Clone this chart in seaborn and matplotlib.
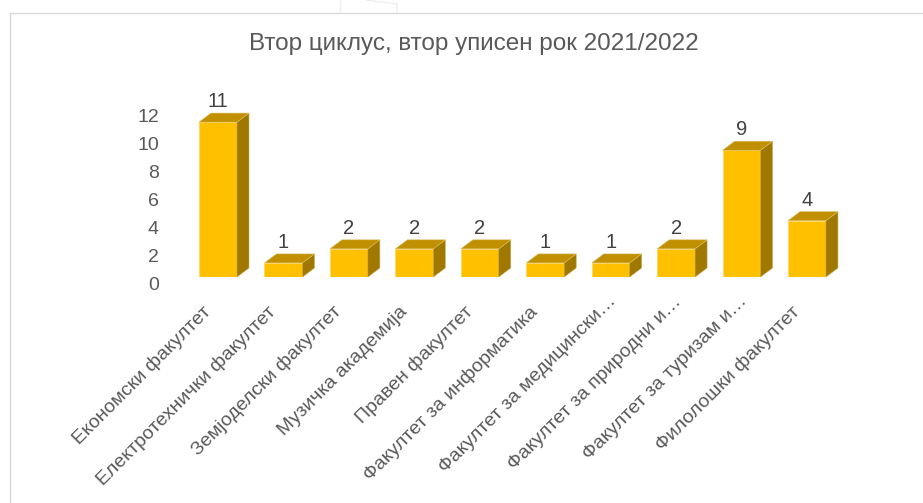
import matplotlib
matplotlib.use('Agg')
import matplotlib.pyplot as plt
import matplotlib.transforms as mtrans
from matplotlib.lines import Line2D
from matplotlib.patches import Polygon
import pandas as pd
import seaborn as sns

faculties = [
    "Економски факултет",
    "Електротехнички факултет",
    "Земјоделски факултет",
    "Музичка академија",
    "Правен факултет",
    "Факултет за информатика",
    "Факултет за медицински…",
    "Факултет за природни и…",
    "Факултет за туризам и…",
    "Филолошки факултет",
]
students = [11, 1, 2, 2, 2, 1, 1, 2, 9, 4]
y_ticks = [0, 2, 4, 6, 8, 10, 12]
chart_title = "Втор циклус, втор уписен рок 2021/2022"

W, H = 923, 503
sns.set_theme(style="white")
plt.rcParams['font.family'] = ['Liberation Sans', 'DejaVu Sans']

fig = plt.figure(figsize=(W / 100, H / 100), dpi=100)
# axes placed so the bar floor is at y=277px and one unit is about 14px
ax = fig.add_axes([185.3 / W, (H - 277) / H, 654.4 / W, 169 / H])

df = pd.DataFrame({"faculty": faculties, "students": students})
sns.barplot(data=df, x="faculty", y="students", color="#FFC000", saturation=1,
            width=0.58, ax=ax, zorder=3)
ax.set_xlim(-0.5, 9.5)
ax.set_ylim(0, 12)
ax.set_xlabel("")
ax.set_ylabel("")
ax.set_yticks(y_ticks)
sns.despine(ax=ax, left=True, bottom=True)
ax.tick_params(axis='both', length=0)
ax.tick_params(axis='y', pad=19, labelsize=14, labelcolor="#595959")

# depth of the fake 3D boxes, given in data units
dx = 12 / 65.44
dy = 9 / 14.08
for bar, val in zip(ax.patches, students):
    x0 = bar.get_x()
    x1 = x0 + bar.get_width()
    top = bar.get_height()
    bar.set_edgecolor("#FFD75E")
    bar.set_linewidth(0.5)
    ax.add_patch(Polygon([(x1, 0), (x1 + dx, dy), (x1 + dx, top + dy), (x1, top)],
                         facecolor="#A07800", edgecolor="#C9AC5A", lw=0.4, zorder=3,
                         clip_on=False))
    ax.add_patch(Polygon([(x0, top), (x0 + dx, top + dy), (x1 + dx, top + dy), (x1, top)],
                         facecolor="#C09000", edgecolor="#DDBE62", lw=0.4, zorder=3,
                         clip_on=False))
    ax.annotate(str(val), (x0 + bar.get_width() / 2, top + dy), xytext=(0, 1.5),
                textcoords='offset points', ha='center', va='bottom',
                fontsize=14.5, color="#404040", annotation_clip=False)

# tick labels sit a bit lower than the bars (3D floor)
y_shift = mtrans.ScaledTranslation(0, -7 / 100, fig.dpi_scale_trans)
for lab in ax.get_yticklabels():
    lab.set_transform(lab.get_transform() + y_shift)

ax.set_xticks(range(len(faculties)))
ax.set_xticklabels(faculties, rotation=45, ha='right', rotation_mode='anchor',
                   fontsize=14, color="#595959")
for lab in ax.get_xticklabels():
    # the cut off labels reach further up along the slant
    if lab.get_text().endswith("…"):
        x_shift = mtrans.ScaledTranslation(-3 / 100, -11 / 100, fig.dpi_scale_trans)
    else:
        x_shift = mtrans.ScaledTranslation(-16 / 100, -21 / 100, fig.dpi_scale_trans)
    lab.set_transform(lab.get_transform() + x_shift)

fig.text(473.5 / W, 1 - 44 / H, chart_title, ha='center', va='center',
         fontsize=17.5, color="#595959")

# chart frame, cut off by the screenshot on the right and at the bottom
fig.add_artist(Line2D([9.5 / W, 9.5 / W, 1], [0, 1 - 12.5 / H, 1 - 12.5 / H],
                      color="#D9D9D9", lw=1))
# faint remains of the page behind the chart
fig.add_artist(Line2D([340 / W, 340 / W], [1 - 12 / H, 1], color="#EFEFEF", lw=1))
fig.add_artist(Line2D([366 / W, 397 / W, 397 / W], [1, 1 - 4 / H, 1 - 12 / H],
                      color="#EFEFEF", lw=1))

fig.savefig("out.png", dpi=100)
